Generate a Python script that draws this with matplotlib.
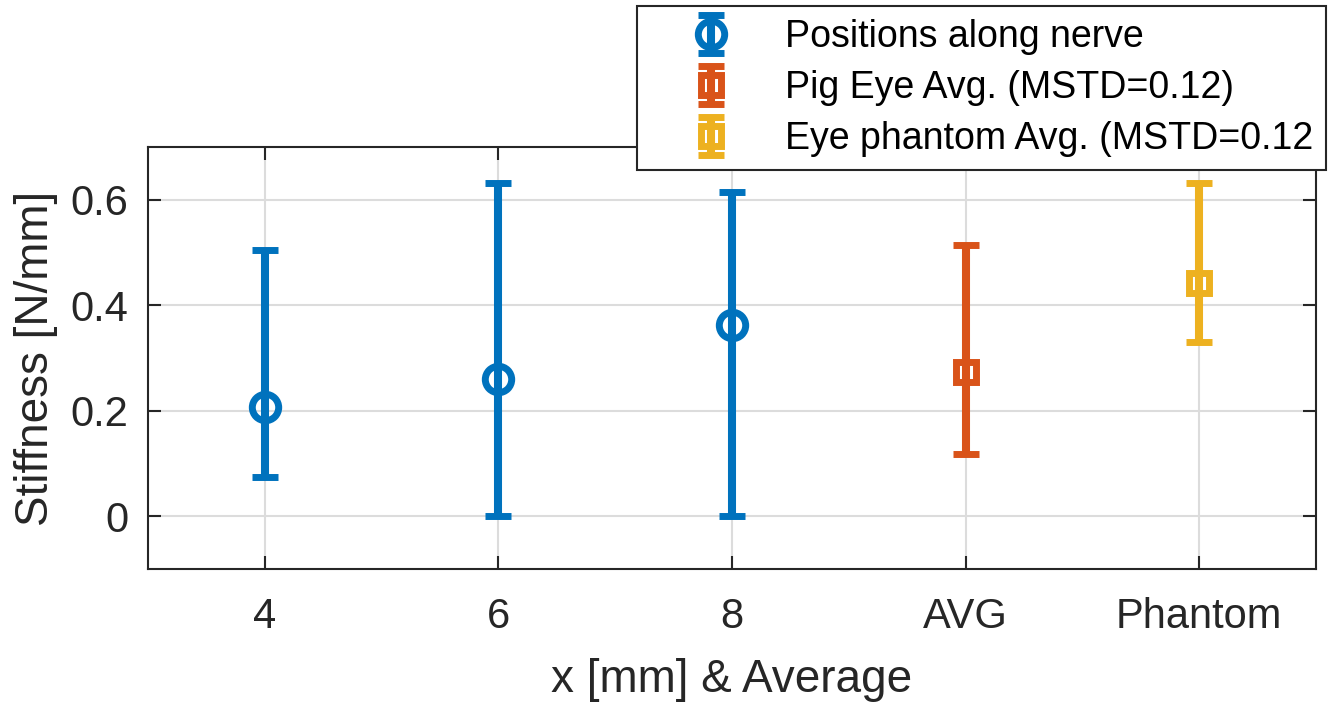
import numpy as np
import matplotlib.pyplot as plt

plt.rcParams['font.family'] = ['Liberation Sans', 'DejaVu Sans']

labels = ["4", "6", "8", "AVG", "Phantom"]

# positions along nerve
nerve_mean = [0.207, 0.260, 0.362]
nerve_low = [0.074, 0.0, 0.0]
nerve_high = [0.504, 0.631, 0.614]

# pig eye average
pig_mean = [0.273]
pig_low = [0.118]
pig_high = [0.514]

# eye phantom average
ph_mean = [0.442]
ph_low = [0.330]
ph_high = [0.631]

blue = "#0072BD"
orange = "#D95319"
yellow = "#EDB120"

fig = plt.figure(figsize=(13.31, 7.02), dpi=100)
ax = fig.add_axes([148/1331, 1-569/702, (1316-148)/1331, (569-147)/702])

def err(m, lo, hi):
    m = np.array(m); lo = np.array(lo); hi = np.array(hi)
    return [m - lo, hi - m]

x_nerve = [1, 2, 3]
ax.errorbar(x_nerve, nerve_mean, yerr=err(nerve_mean, nerve_low, nerve_high),
            fmt="o", color=blue, mfc="none", ms=19, mew=5, elinewidth=5.8,
            capsize=9.5, capthick=5.5, label="Positions along nerve", zorder=3)
ax.errorbar([4], pig_mean, yerr=err(pig_mean, pig_low, pig_high),
            fmt="s", color=orange, mfc="none", ms=14, mew=5, elinewidth=5.8,
            capsize=9.5, capthick=5.5, label="Pig Eye Avg. (MSTD=0.12)", zorder=3)
ax.errorbar([5], ph_mean, yerr=err(ph_mean, ph_low, ph_high),
            fmt="s", color=yellow, mfc="none", ms=14, mew=5, elinewidth=5.8,
            capsize=9.5, capthick=5.5, label="Eye phantom Avg. (MSTD=0.12", zorder=3)

ax.set_xlim(0.5, 5.5)
ax.set_ylim(-0.1, 0.7)
ax.set_xticks([1, 2, 3, 4, 5])
ax.set_xticklabels(labels)
ax.set_yticks([0, 0.2, 0.4, 0.6])
ax.set_yticklabels(["0", "0.2", "0.4", "0.6"])
ax.grid(True, color="#dcdcdc", linewidth=1.5)
ax.set_axisbelow(True)
ax.tick_params(direction="in", length=9.5, width=1.5, labelsize=30,
               top=True, right=True, color="#262626", labelcolor="#262626")
ax.tick_params(axis="x", pad=20)
ax.tick_params(axis="y", pad=14)
for s in ax.spines.values():
    s.set_linewidth(1.5)
    s.set_color("#262626")

ax.set_xlabel("x [mm] & Average", fontsize=33, color="#262626", labelpad=15)
ax.set_ylabel("Stiffness [N/mm]", fontsize=33, color="#262626", labelpad=9)

leg = ax.legend(loc="upper right", bbox_to_anchor=(1326/1331, 1-6/702),
                bbox_transform=fig.transFigure, fontsize=27, frameon=True,
                fancybox=False, edgecolor="#262626", framealpha=1,
                handlelength=3.25, handletextpad=0.35, borderpad=0.35,
                labelspacing=0.4, borderaxespad=0)
leg.get_frame().set_linewidth(1.5)

fig.savefig("out.png", dpi=100)
